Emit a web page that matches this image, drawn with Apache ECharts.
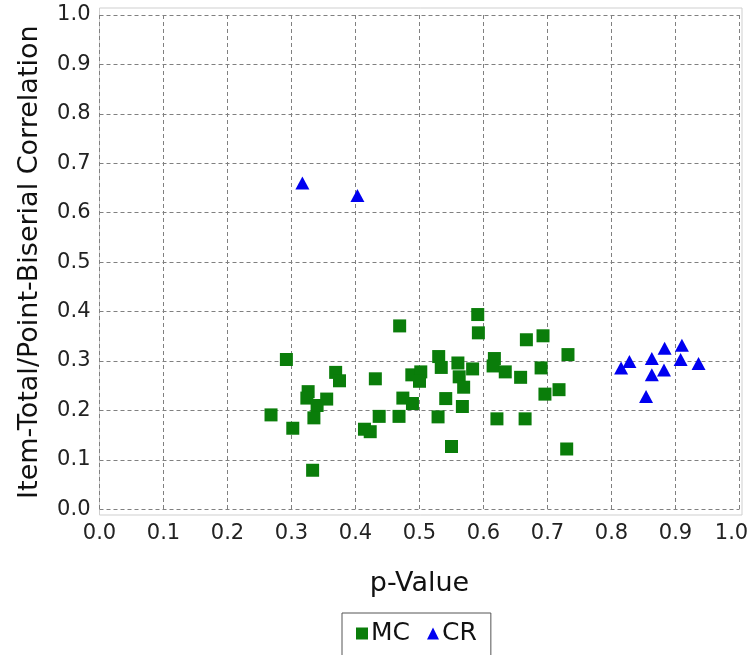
<!DOCTYPE html>
<html><head><meta charset="utf-8">
<script src="https://cdn.jsdelivr.net/npm/echarts@6/dist/echarts.min.js"></script>
<style>html,body{margin:0;padding:0;background:#fff}#c{width:753px;height:655px}</style>
</head><body><div id="c"></div>
<script>
const xTicks = [0.0,0.1,0.2,0.3,0.4,0.5,0.6,0.7,0.8,0.9,1.0];
const mcP = [0.469,0.292,0.369,0.375,0.431,0.488,0.502,0.500,0.326,0.324,0.355,0.340,0.474,0.489,0.268,0.335,0.437,0.468,0.302,0.414,0.423,0.333,
  0.591,0.592,0.667,0.693,0.732,0.530,0.534,0.560,0.583,0.617,0.615,0.634,0.658,0.690,0.562,0.569,0.541,0.567,0.696,0.718,0.529,0.621,0.665,0.550,0.730];
const mcR = [0.371,0.303,0.277,0.260,0.264,0.272,0.278,0.259,0.238,0.225,0.223,0.210,0.225,0.214,0.191,0.185,0.188,0.188,0.164,0.162,0.157,0.079,
  0.394,0.357,0.343,0.351,0.313,0.309,0.287,0.296,0.284,0.305,0.290,0.278,0.267,0.286,0.268,0.247,0.224,0.208,0.233,0.242,0.187,0.183,0.183,0.127,0.122];
const crP = [0.815,0.828,0.863,0.883,0.910,0.908,0.936,0.882,0.863,0.854,0.317,0.403];
const crR = [0.286,0.299,0.305,0.326,0.332,0.303,0.295,0.282,0.272,0.228,0.660,0.635];

const chart = echarts.init(document.getElementById('c'));
const font = 'DejaVu Sans';
const gridLine = {show:true, lineStyle:{color:'#808080', type:[4,3], width:1}};
chart.setOption({
  animation:false,
  backgroundColor:'#fff',
  grid:[
    {left:99.5, top:15, width:640, height:494.3},
    {left:99.5, top:8, width:642.5, height:507, show:true, borderColor:'#cfcfcf', borderWidth:1, backgroundColor:'transparent'}
  ],
  xAxis:[{type:'value', min:0, max:1, interval:0.1,
    name:'p-Value', nameLocation:'middle', nameGap:61,
    nameTextStyle:{fontFamily:font, fontSize:27, color:'#111'},
    axisLine:{show:false}, axisTick:{show:false},
    axisLabel:{fontFamily:font, fontSize:21, color:'#222', margin:14,
      formatter:v=> v===1 ? '{e|1.0}' : v.toFixed(1),
      rich:{e:{fontFamily:font, fontSize:21, color:'#222', padding:[0,16,0,0]}}},
    splitLine:gridLine},
    {gridIndex:1, type:'value', min:0, max:1, show:false}],
  yAxis:[{type:'value', min:0, max:1, interval:0.1,
    name:'Item-Total/Point-Biserial Correlation', nameLocation:'middle', nameGap:56,
    nameTextStyle:{fontFamily:font, fontSize:27, color:'#111'},
    axisLine:{show:false}, axisTick:{show:false},
    axisLabel:{fontFamily:font, fontSize:21, color:'#222', margin:9, formatter:v=>v.toFixed(1)},
    splitLine:gridLine},
    {gridIndex:1, type:'value', min:0, max:1, show:false}],
  legend:{top:613, left:342, itemWidth:12, itemHeight:12, itemGap:17,
    borderColor:'#555', borderWidth:1, padding:[8,14,20,14],
    textStyle:{fontFamily:font, fontSize:25, color:'#111', padding:[0,0,0,-2]},
    data:[{name:'MC', icon:'rect'},{name:'CR', icon:'triangle'}]},
  series:[
    {name:'MC', type:'scatter', symbol:'rect', symbolSize:13,
      itemStyle:{color:'#0a7d0a', opacity:1},
      data:mcP.map((p,i)=>[p,mcR[i]])},
    {name:'CR', type:'scatter', symbol:'triangle', symbolSize:[14,13],
      itemStyle:{color:'#0000f0', opacity:1},
      data:crP.map((p,i)=>[p,crR[i]])}
  ]
});
</script></body></html>
